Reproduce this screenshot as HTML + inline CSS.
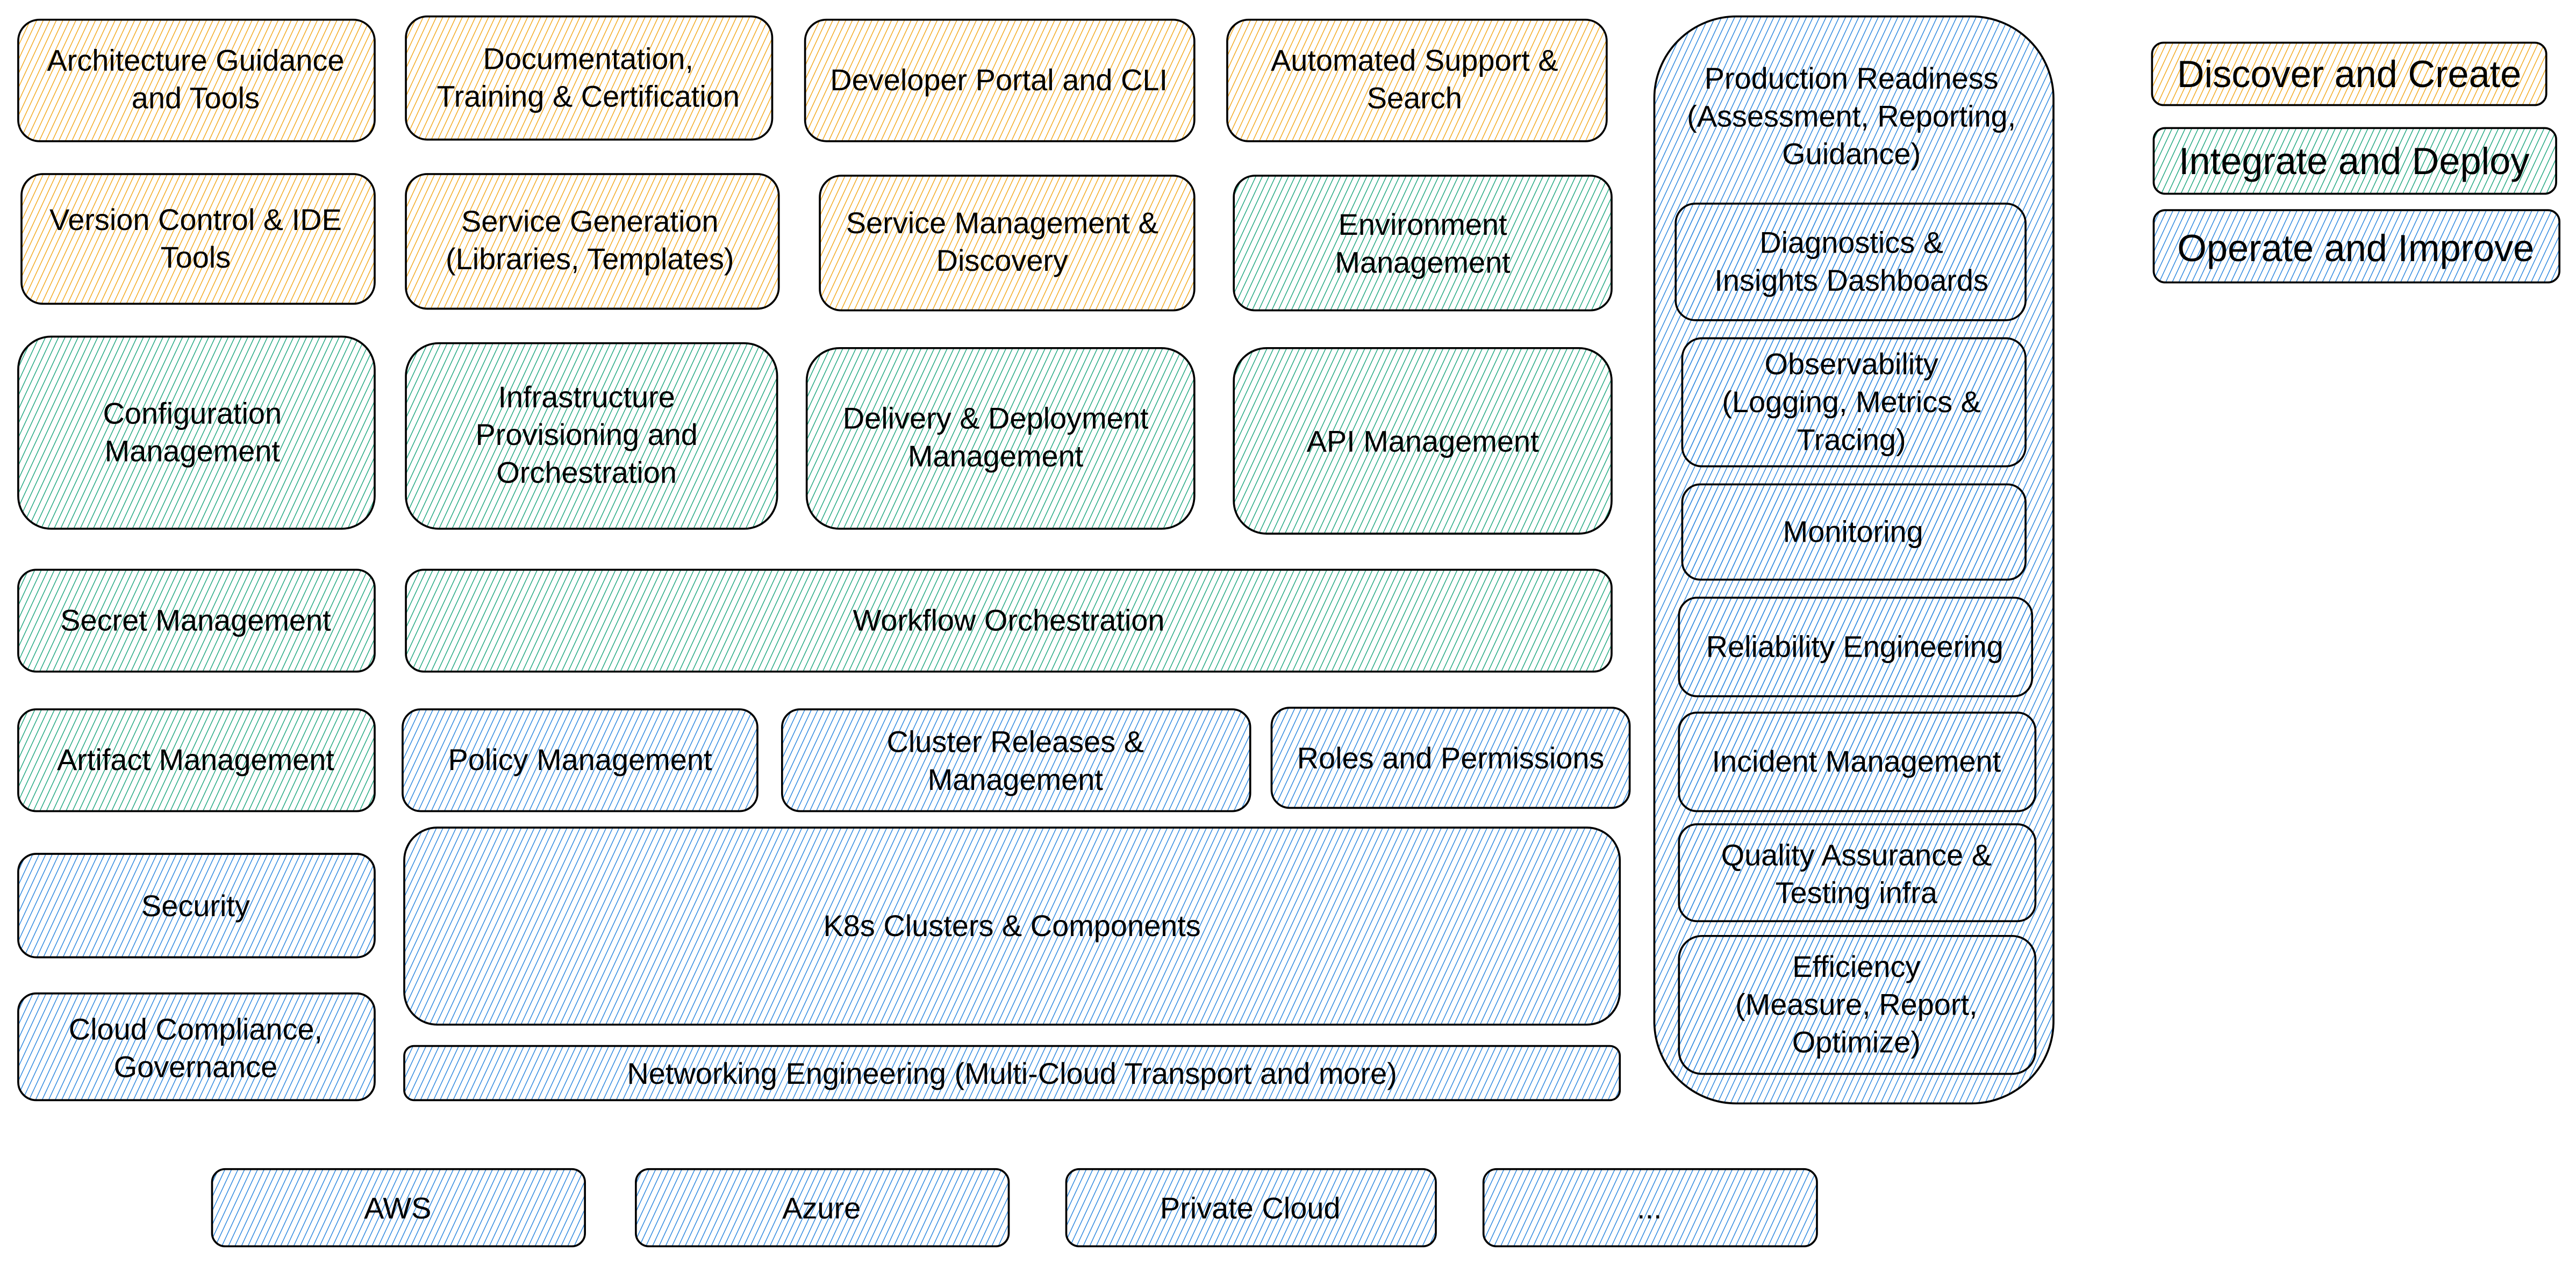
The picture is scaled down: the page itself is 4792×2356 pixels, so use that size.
<!DOCTYPE html>
<html><head><meta charset="utf-8"><style>html,body{margin:0;padding:0;background:#fff}svg{display:block}text{font-family:"Liberation Sans",Arial,sans-serif}</style></head>
<body>
<svg xmlns="http://www.w3.org/2000/svg" width="4792" height="2356" viewBox="0 0 1568 771">
<defs>
<pattern id="ho" patternUnits="userSpaceOnUse" width="3.6" height="3.6" patternTransform="rotate(25)"><line x1="0" y1="0" x2="0" y2="3.6" stroke="#f2a81d" stroke-width="0.95"/></pattern>
<pattern id="hg" patternUnits="userSpaceOnUse" width="3.6" height="3.6" patternTransform="rotate(25)"><line x1="0" y1="0" x2="0" y2="3.6" stroke="#1fa67f" stroke-width="0.95"/></pattern>
<pattern id="hb" patternUnits="userSpaceOnUse" width="3.6" height="3.6" patternTransform="rotate(25)"><line x1="0" y1="0" x2="0" y2="3.6" stroke="#2a86de" stroke-width="0.95"/></pattern>
</defs>
<g stroke="#000" stroke-width="1.2">
<rect x="11" y="12" width="217" height="74" rx="13" fill="url(#ho)"/>
<rect x="247" y="10" width="223" height="75" rx="13" fill="url(#ho)"/>
<rect x="490" y="12" width="237" height="74" rx="13" fill="url(#ho)"/>
<rect x="747" y="12" width="231" height="74" rx="13" fill="url(#ho)"/>
<rect x="13" y="106" width="215" height="79" rx="13" fill="url(#ho)"/>
<rect x="247" y="106" width="227" height="82" rx="13" fill="url(#ho)"/>
<rect x="499" y="107" width="228" height="82" rx="13" fill="url(#ho)"/>
<rect x="751" y="107" width="230" height="82" rx="13" fill="url(#hg)"/>
<rect x="11" y="205" width="217" height="117" rx="20" fill="url(#hg)"/>
<rect x="247" y="209" width="226" height="113" rx="20" fill="url(#hg)"/>
<rect x="491" y="212" width="236" height="110" rx="20" fill="url(#hg)"/>
<rect x="751" y="212" width="230" height="113" rx="20" fill="url(#hg)"/>
<rect x="11" y="347" width="217" height="62" rx="11" fill="url(#hg)"/>
<rect x="247" y="347" width="734" height="62" rx="11" fill="url(#hg)"/>
<rect x="11" y="432" width="217" height="62" rx="11" fill="url(#hg)"/>
<rect x="245" y="432" width="216" height="62" rx="11" fill="url(#hb)"/>
<rect x="476" y="432" width="285" height="62" rx="11" fill="url(#hb)"/>
<rect x="774" y="431" width="218" height="61" rx="11" fill="url(#hb)"/>
<rect x="11" y="520" width="217" height="63" rx="11" fill="url(#hb)"/>
<rect x="246" y="504" width="740" height="120" rx="20" fill="url(#hb)"/>
<rect x="11" y="605" width="217" height="65" rx="11" fill="url(#hb)"/>
<rect x="246" y="637" width="740" height="33" rx="6" fill="url(#hb)"/>
<rect x="129" y="712" width="227" height="47" rx="8" fill="url(#hb)"/>
<rect x="387" y="712" width="227" height="47" rx="8" fill="url(#hb)"/>
<rect x="649" y="712" width="225" height="47" rx="8" fill="url(#hb)"/>
<rect x="903" y="712" width="203" height="47" rx="8" fill="url(#hb)"/>
<rect x="1007" y="10" width="243" height="662" rx="50" fill="url(#hb)"/>
<rect x="1020" y="124" width="213" height="71" rx="12" fill="url(#hb)"/>
<rect x="1024" y="206" width="209" height="78" rx="12" fill="url(#hb)"/>
<rect x="1024" y="295" width="209" height="58" rx="11" fill="url(#hb)"/>
<rect x="1022" y="364" width="215" height="60" rx="11" fill="url(#hb)"/>
<rect x="1022" y="434" width="217" height="60" rx="11" fill="url(#hb)"/>
<rect x="1022" y="502" width="217" height="59" rx="11" fill="url(#hb)"/>
<rect x="1022" y="570" width="217" height="84" rx="14" fill="url(#hb)"/>
<rect x="1310" y="26" width="240" height="38" rx="7" fill="url(#ho)"/>
<rect x="1311" y="78" width="245" height="40" rx="7" fill="url(#hg)"/>
<rect x="1311" y="128" width="247" height="44" rx="7" fill="url(#hb)"/>
</g>
<g fill="#000" font-size="18.3" text-anchor="middle">
<text x="119" y="43">Architecture Guidance</text><text x="119" y="66">and Tools</text>
<text x="358" y="42">Documentation,</text><text x="358" y="65">Training &amp; Certification</text>
<text x="608" y="55">Developer Portal and CLI</text>
<text x="861" y="43">Automated Support &amp;</text><text x="861" y="66">Search</text>
<text x="119" y="140">Version Control &amp; IDE</text><text x="119" y="163">Tools</text>
<text x="359" y="141">Service Generation</text><text x="359" y="164">(Libraries, Templates)</text>
<text x="610" y="142">Service Management &amp;</text><text x="610" y="165">Discovery</text>
<text x="866" y="143">Environment</text><text x="866" y="166">Management</text>
<text x="117" y="258">Configuration</text><text x="117" y="281">Management</text>
<text x="357" y="248">Infrastructure</text><text x="357" y="271">Provisioning and</text><text x="357" y="294">Orchestration</text>
<text x="606" y="261">Delivery &amp; Deployment</text><text x="606" y="284">Management</text>
<text x="866" y="275">API Management</text>
<text x="119" y="384">Secret Management</text>
<text x="614" y="384">Workflow Orchestration</text>
<text x="119" y="469">Artifact Management</text>
<text x="353" y="469">Policy Management</text>
<text x="618" y="458">Cluster Releases &amp;</text><text x="618" y="481">Management</text>
<text x="883" y="468">Roles and Permissions</text>
<text x="119" y="558">Security</text>
<text x="616" y="570">K8s Clusters &amp; Components</text>
<text x="119" y="633">Cloud Compliance,</text><text x="119" y="656">Governance</text>
<text x="616" y="660">Networking Engineering (Multi-Cloud Transport and more)</text>
<text x="242" y="742">AWS</text>
<text x="500" y="742">Azure</text>
<text x="761" y="742">Private Cloud</text>
<text x="1004" y="742">...</text>
<text x="1127" y="54">Production Readiness</text><text x="1127" y="77">(Assessment, Reporting,</text><text x="1127" y="100">Guidance)</text>
<text x="1127" y="154">Diagnostics &amp;</text><text x="1127" y="177">Insights Dashboards</text>
<text x="1127" y="228">Observability</text><text x="1127" y="251">(Logging, Metrics &amp;</text><text x="1127" y="274">Tracing)</text>
<text x="1128" y="330">Monitoring</text>
<text x="1129" y="400">Reliability Engineering</text>
<text x="1130" y="470">Incident Management</text>
<text x="1130" y="527">Quality Assurance &amp;</text><text x="1130" y="550">Testing infra</text>
<text x="1130" y="595">Efficiency</text><text x="1130" y="618">(Measure, Report,</text><text x="1130" y="641">Optimize)</text>
<g font-size="23"><text x="1430" y="53">Discover and Create</text><text x="1433" y="106">Integrate and Deploy</text><text x="1434" y="159">Operate and Improve</text></g>
</g>
</svg>
</body></html>
